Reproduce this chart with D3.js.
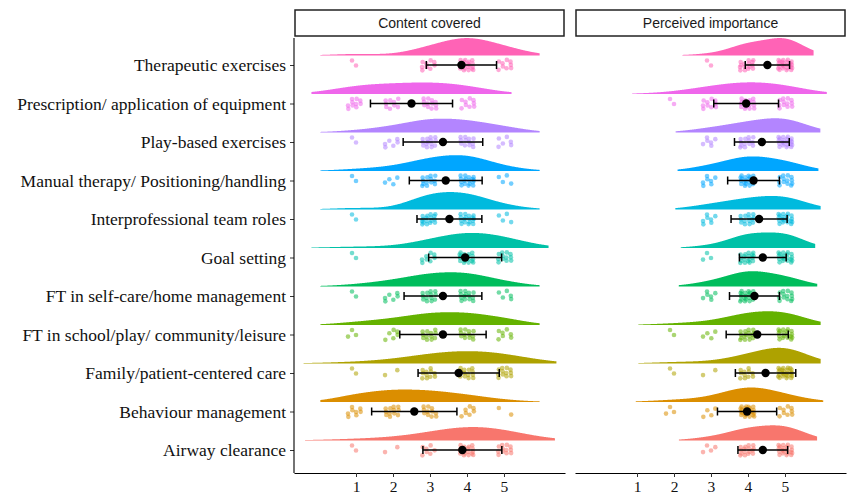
<!DOCTYPE html>
<html><head><meta charset="utf-8">
<script src="https://cdn.jsdelivr.net/npm/d3@7"></script>
<style>body{margin:0;background:#fff}</style>
</head><body><svg id="chart" width="847" height="496"></svg>
<script>
// ---------------- data ----------------
const categories = [
  "Therapeutic exercises",
  "Prescription/ application of equipment",
  "Play-based exercises",
  "Manual therapy/ Positioning/handling",
  "Interprofessional team roles",
  "Goal setting",
  "FT in self-care/home management",
  "FT in school/play/ community/leisure",
  "Family/patient-centered care",
  "Behaviour management",
  "Airway clearance"
];
const panels = ["Content covered", "Perceived importance"];
const likertLevels = [1, 2, 3, 4, 5];
// number of responses at Likert level 1..5, one row per category
const contentCounts = [
  [2, 0, 9, 20, 9],
  [10, 9, 12, 9, 0],
  [2, 6, 14, 12, 6],
  [2, 4, 13, 17, 4],
  [2, 0, 17, 17, 4],
  [2, 0, 8, 18, 12],
  [2, 6, 13, 14, 5],
  [3, 6, 12, 12, 7],
  [2, 2, 11, 13, 12],
  [8, 12, 11, 7, 2],
  [2, 2, 7, 17, 12]
];
const importanceCounts = [
  [0, 0, 2, 15, 23],
  [0, 2, 10, 16, 12],
  [0, 0, 6, 13, 21],
  [0, 0, 7, 20, 13],
  [0, 0, 7, 14, 19],
  [0, 0, 3, 18, 19],
  [0, 0, 6, 21, 13],
  [0, 2, 4, 16, 18],
  [0, 2, 2, 11, 25],
  [0, 3, 4, 24, 9],
  [0, 0, 4, 16, 20]
];
const xTicks = [1, 2, 3, 4, 5];
const colors = ["#FF63B6", "#EF67EB", "#B385FF", "#00A6FF", "#00BADE", "#00C1A7",
                "#00BD5C", "#64B200", "#AEA200", "#DB8E00", "#F8766D"];

// ---------------- helpers ----------------
function expand(counts) {
  const v = [];
  counts.forEach((c, i) => { for (let k = 0; k < c; k++) v.push(likertLevels[i]); });
  return v;
}
function bwNrd0(x) {
  const s = [...x].sort((a, b) => a - b);
  const hi = d3.deviation(s);
  const iqr = d3.quantileSorted(s, 0.75) - d3.quantileSorted(s, 0.25);
  let lo = Math.min(hi, iqr / 1.34);
  if (!lo) lo = hi || Math.abs(s[0]) || 1;
  return 0.9 * lo * Math.pow(s.length, -0.2);
}
function kde(values, adjust) {
  const bw = bwNrd0(values);
  const h = bw * adjust;
  const from = d3.min(values) - 3 * bw, to = d3.max(values) + 3 * bw;
  const n = 512, pts = [];
  for (let i = 0; i < n; i++) {
    const t = from + (to - from) * i / (n - 1);
    let s = 0;
    for (const v of values) { const z = (t - v) / h; s += Math.exp(-0.5 * z * z); }
    pts.push([t, s / (values.length * h * Math.sqrt(2 * Math.PI))]);
  }
  return pts;
}
const frac = v => v - Math.floor(v);

// ---------------- layout ----------------
const svg = d3.select("#chart");
const panelX = [294, 575], panelW = 271, panelTop = 38, panelBottom = 473;
const xDomain = [-0.676, 6.649];
const y = d3.scalePoint().domain(categories).range([65, 450]);
const step = y.step();
const nudge = 0.25 * step, halfWidth = 0.45 * step;
const serif = "'Liberation Serif', 'Times New Roman', serif";
const sans = "'Liberation Sans', Arial, sans-serif";

panels.forEach((pname, p) => {
  const counts = p === 0 ? contentCounts : importanceCounts;
  const x = d3.scaleLinear().domain(xDomain).range([panelX[p], panelX[p] + panelW]);
  const g = svg.append("g");

  const rows = categories.map((c, i) => {
    const vals = expand(counts[i]);
    return { cat: c, color: colors[i], vals, dens: kde(vals, 2),
             mean: d3.mean(vals), sd: d3.deviation(vals) };
  });
  const maxD = d3.max(rows, r => d3.max(r.dens, d => d[1]));
  const hScale = d3.scaleLinear().domain([0, maxD]).range([0, halfWidth]);

  // violins
  rows.forEach(r => {
    const base = y(r.cat) - nudge;
    const area = d3.area().x(d => x(d[0])).y0(base).y1(d => base - hScale(d[1]));
    g.append("path").attr("d", area(r.dens)).attr("fill", r.color);
  });
  // jittered points
  rows.forEach(r => {
    const yc = y(r.cat);
    g.append("g").selectAll("circle").data(r.vals).join("circle")
      .attr("cx", (v, k) => x(v + (frac(0.5 + k * 0.7548776662) * 2 - 1) * 0.22))
      .attr("cy", (v, k) => yc + 0.5 + (frac(0.5 + k * 0.5698402910) * 2 - 1) * 0.15 * step)
      .attr("r", 2.3).attr("fill", r.color).attr("fill-opacity", 0.55);
  });
  // mean +- sd
  rows.forEach(r => {
    const yc = y(r.cat);
    const x0 = x(r.mean - r.sd), x1 = x(r.mean + r.sd);
    const eg = g.append("g").attr("stroke", "#000").attr("stroke-width", 1.5);
    eg.append("line").attr("x1", x0).attr("x2", x1).attr("y1", yc).attr("y2", yc);
    eg.append("line").attr("x1", x0).attr("x2", x0).attr("y1", yc - 4).attr("y2", yc + 4);
    eg.append("line").attr("x1", x1).attr("x2", x1).attr("y1", yc - 4).attr("y2", yc + 4);
    g.append("circle").attr("cx", x(r.mean)).attr("cy", yc).attr("r", 4.2).attr("fill", "#000");
  });

  // x axis
  const xa = svg.append("g").attr("transform", `translate(0,${panelBottom})`)
    .call(d3.axisBottom(x).tickValues(xTicks).tickFormat(d3.format("d"))
      .tickSize(4).tickSizeOuter(0).tickPadding(4));
  xa.select(".domain").attr("stroke", "#000").attr("stroke-width", 1.1);
  xa.selectAll(".tick line").attr("stroke", "#333");
  xa.selectAll("text").attr("font-family", serif).attr("font-size", 15.5).attr("fill", "#111");

  // strip
  svg.append("rect").attr("x", panelX[p] + 1).attr("y", 10).attr("width", panelW - 2).attr("height", 26)
    .attr("fill", "#fff").attr("stroke", "#222").attr("stroke-width", 1.5);
  svg.append("text").attr("x", panelX[p] + panelW / 2).attr("y", 28)
    .attr("text-anchor", "middle").attr("font-family", sans).attr("font-size", 14)
    .attr("fill", "#1a1a1a").text(pname);
});

// y axis (left panel only)
const ya = svg.append("g").attr("transform", `translate(${panelX[0]},0)`)
  .call(d3.axisLeft(y).tickSize(4).tickSizeOuter(0).tickPadding(4));
ya.select(".domain").remove();
ya.selectAll(".tick line").attr("stroke", "#333");
ya.selectAll("text").attr("font-family", serif).attr("font-size", 17.5).attr("fill", "#111");
svg.append("line").attr("x1", panelX[0]).attr("x2", panelX[0])
  .attr("y1", panelTop).attr("y2", panelBottom).attr("stroke", "#000").attr("stroke-width", 1.1);
</script>
</body></html>
